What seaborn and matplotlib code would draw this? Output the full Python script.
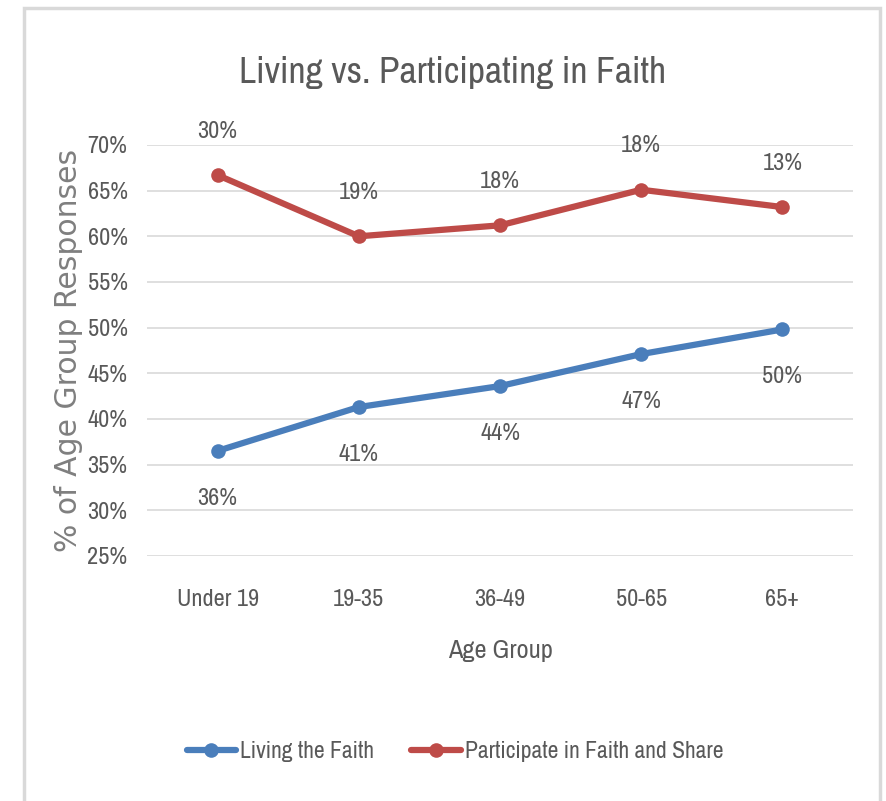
import matplotlib
matplotlib.use("Agg")
import matplotlib.pyplot as plt
from matplotlib import font_manager
from matplotlib.patches import Rectangle
import seaborn as sns
import pandas as pd

categories = ["Under 19", "19-35", "36-49", "50-65", "65+"]
living = [36.5, 41.3, 43.6, 47.1, 49.8]
living_labels = ["36%", "41%", "44%", "47%", "50%"]
participate = [66.7, 60.0, 61.2, 65.1, 63.2]
participate_labels = ["30%", "19%", "18%", "18%", "13%"]
series_names = ["Living the Faith", "Participate in Faith and Share"]
yticks = [25, 30, 35, 40, 45, 50, 55, 60, 65, 70]

sns.set_theme(style="white")

# pick a condensed font if one is available
fl = font_manager.fontManager.ttflist
narrow = [f.name for f in fl if "Narrow" in f.name or "Condensed" in f.name]
if narrow:
    main_font = narrow[0]
    stretch = "normal"
else:
    main_font = "DejaVu Sans"
    stretch = "condensed"
plt.rcParams["font.family"] = [main_font, "DejaVu Sans"]
plt.rcParams["font.stretch"] = stretch

text_color = "#595959"
blue = "#4a7ebb"
red = "#be4b48"

df = pd.DataFrame({
    "Age Group": categories * 2,
    "Value": living + participate,
    "Series": [series_names[0]] * 5 + [series_names[1]] * 5,
})

fig = plt.figure(figsize=(8.87, 8.01), dpi=100)
ax = fig.add_axes([0.1657, 0.306, 0.7960, 0.513])

sns.lineplot(data=df, x="Age Group", y="Value", hue="Series",
             palette=[blue, red], marker="o", markersize=10.5,
             markeredgewidth=0, linewidth=4.5, ax=ax, sort=False)

ax.set_xlim(-0.5, 4.5)
ax.set_ylim(25, 70)
ax.set_yticks(yticks)
ax.set_yticklabels([f"{v}%" for v in yticks])
ax.grid(axis="y", color="#d9d9d9", linewidth=1.2)
ax.set_axisbelow(True)
for s in ax.spines.values():
    s.set_visible(False)
ax.tick_params(axis="both", length=0, labelsize=17.5, labelcolor=text_color)
ax.tick_params(axis="y", pad=14)
ax.tick_params(axis="x", pad=24)

for i, (v, lab) in enumerate(zip(living, living_labels)):
    ax.annotate(lab, (i, v), xytext=(0, -34), textcoords="offset points",
                ha="center", va="center", fontsize=17.5, color=text_color)
for i, (v, lab) in enumerate(zip(participate, participate_labels)):
    ax.annotate(lab, (i, v), xytext=(0, 31.5), textcoords="offset points",
                ha="center", va="center", fontsize=17.5, color=text_color)

ax.set_xlabel("Age Group", fontsize=19, color=text_color, labelpad=21)
ax.set_ylabel("% of Age Group Responses", fontsize=21.5, color="#7f7f7f",
              family="DejaVu Sans", fontstretch="normal")
ax.yaxis.set_label_coords(-0.09, 0.5)

fig.text(0.51, 0.909, "Living vs. Participating in Faith", ha="center",
         va="center", fontsize=27, color=text_color)

handles, labels = ax.get_legend_handles_labels()
ax.legend(handles, labels, loc="center", bbox_to_anchor=(0.436, -0.476),
          ncol=2, frameon=False, fontsize=17, labelcolor=text_color,
          handlelength=2.1, handletextpad=0.15, columnspacing=1.6)

# outer chart frame
fig.patches.append(Rectangle((0.027, -0.05), 0.965, 1.04, transform=fig.transFigure,
                             fill=False, edgecolor="#d9d9d9", linewidth=2.5))

fig.savefig("out.png", dpi=100, facecolor="white")
